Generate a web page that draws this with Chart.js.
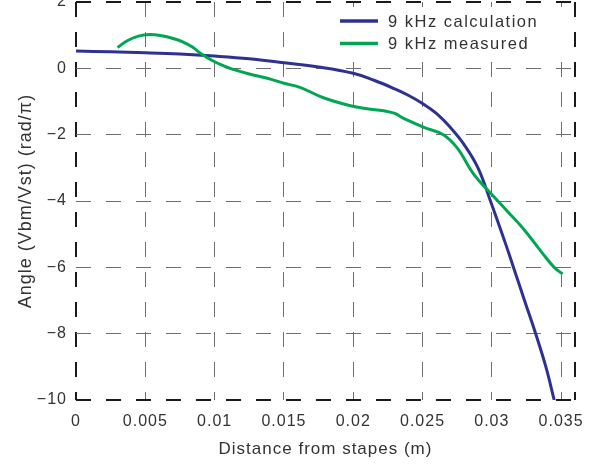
<!DOCTYPE html>
<html>
<head>
<meta charset="utf-8">
<script src="https://cdn.jsdelivr.net/npm/chart.js@4/dist/chart.umd.min.js"></script>
<style>
  html, body { margin: 0; padding: 0; background: #ffffff; }
  #wrap { width: 589px; height: 465px; }
</style>
</head>
<body>
<div id="wrap"><canvas id="c" width="589" height="465"></canvas></div>
<script>
// ---- data ----
const seriesNames = ['9 kHz calculation', '9 kHz measured'];

const calcX = [0, 0.0025, 0.005, 0.0075, 0.01, 0.0125, 0.015, 0.0175, 0.02, 0.0215, 0.023, 0.024, 0.025, 0.026, 0.027, 0.028, 0.029, 0.0299, 0.031, 0.0316, 0.0324, 0.0332, 0.0339, 0.0345];
const calcY = [0.52, 0.50, 0.47, 0.43, 0.37, 0.29, 0.17, 0.04, -0.15, -0.36, -0.62, -0.82, -1.06, -1.36, -1.78, -2.3, -3.0, -4.0, -5.3, -6.05, -7.05, -8.05, -9.0, -10.0];

const measX = [0.003, 0.0037, 0.0045, 0.0053, 0.0062, 0.007, 0.0077, 0.0084, 0.009, 0.0099, 0.0107, 0.0114, 0.0125, 0.0138, 0.015, 0.0162, 0.0178, 0.0198, 0.021, 0.0222, 0.023, 0.0236, 0.0244, 0.0251, 0.0265, 0.0275, 0.0287, 0.0299, 0.0311, 0.0323, 0.0337, 0.0345, 0.0351];
const measY = [0.63, 0.83, 0.97, 1.02, 0.98, 0.9, 0.8, 0.64, 0.45, 0.22, 0.07, -0.04, -0.17, -0.3, -0.45, -0.58, -0.88, -1.13, -1.22, -1.28, -1.36, -1.5, -1.65, -1.78, -2.0, -2.4, -3.2, -3.76, -4.3, -4.85, -5.6, -6.0, -6.2];

const xTicks = [0, 0.005, 0.01, 0.015, 0.02, 0.025, 0.03, 0.035];
const xTickLabels = ['0', '0.005', '0.01', '0.015', '0.02', '0.025', '0.03', '0.035'];
const xMin = 0, xMax = 0.036;
const yTicks = [2, 0, -2, -4, -6, -8, -10];
const yTickLabels = ['2', '0', '\u22122', '\u22124', '\u22126', '\u22128', '\u221210'];
const yMin = -10, yMax = 2;

const xTitle = 'Distance from stapes (m)';
const yTitle = 'Angle (Vbm/Vst) (rad/\u03c0)';
const colors = ['#2e3192', '#00a651'];

// ---- build ----
const toPts = (xs, ys) => xs.map((x, i) => ({ x: x, y: ys[i] }));
const FONT = '"Liberation Sans", Arial, Helvetica, sans-serif';
const TEXT = '#333333';

const spacingPlugin = {
  id: 'spacing',
  beforeUpdate(chart) { chart.ctx.letterSpacing = '1px'; },
  beforeDraw(chart) { chart.ctx.letterSpacing = '1px'; }
};

const boxLegend = {
  id: 'boxLegend',
  afterDraw(chart) {
    const ctx = chart.ctx;
    const a = chart.chartArea;
    ctx.save();
    ctx.fillStyle = '#ffffff';
    ctx.fillRect(a.right - 237, a.top + 5, 232, 55);
    ctx.letterSpacing = '1.5px';
    ctx.font = '16.5px ' + FONT;
    ctx.textBaseline = 'middle';
    ctx.textAlign = 'left';
    chart.data.datasets.forEach((ds, i) => {
      const y = a.top + 19 + i * 22.5;
      ctx.strokeStyle = ds.borderColor;
      ctx.lineWidth = 3.5;
      ctx.beginPath();
      ctx.moveTo(a.right - 235, y);
      ctx.lineTo(a.right - 197, y);
      ctx.stroke();
      ctx.fillStyle = TEXT;
      ctx.fillText(ds.label, a.right - 187, y + 1);
    });
    ctx.restore();
  }
};

const edge = (ctx, lo, hi) => {
  const v = ctx.tick ? ctx.tick.value : null;
  return (v === lo || v === hi);
};

new Chart(document.getElementById('c'), {
  type: 'line',
  data: {
    datasets: [
      { label: seriesNames[0], data: toPts(calcX, calcY), borderColor: colors[0], borderWidth: 3, pointRadius: 0, fill: false, tension: 0.4, order: 1 },
      { label: seriesNames[1], data: toPts(measX, measY), borderColor: colors[1], borderWidth: 3, pointRadius: 0, fill: false, tension: 0.4, order: 0 }
    ]
  },
  options: {
    responsive: false,
    animation: false,
    devicePixelRatio: 1,
    layout: { padding: { left: 0, right: 14, top: 2, bottom: 0 } },
    plugins: { legend: { display: false }, tooltip: { enabled: false } },
    scales: {
      x: {
        type: 'linear',
        min: xMin, max: xMax,
        afterBuildTicks: (s) => { s.ticks = xTicks.concat([xMax]).map(v => ({ value: v })); },
        afterFit: (s) => { s.height = 65; s.paddingLeft = 0; s.paddingRight = 0; },
        ticks: {
          color: TEXT, padding: 12, maxRotation: 0, autoSkip: false,
          font: { family: FONT, size: 16 },
          callback: (v) => { const i = xTicks.indexOf(v); return i >= 0 ? xTickLabels[i] : ''; }
        },
        grid: {
          drawTicks: false,
          color: (c) => edge(c, xMin, xMax) ? '#1a1a1a' : '#6e6e6e',
          lineWidth: (c) => edge(c, xMin, xMax) ? 2 : 1
        },
        border: { display: false, dash: [15, 15], dashOffset: 0 },
        title: { display: true, text: xTitle, color: TEXT, font: { family: FONT, size: 17 }, padding: { top: 0, bottom: 5 } }
      },
      y: {
        type: 'linear',
        min: yMin, max: yMax,
        afterBuildTicks: (s) => { s.ticks = yTicks.slice().reverse().map(v => ({ value: v })); },
        afterFit: (s) => { s.width = 76; s.paddingTop = 0; s.paddingBottom = 0; },
        ticks: {
          color: TEXT, padding: 9, autoSkip: false,
          font: { family: FONT, size: 16 },
          callback: (v) => { const i = yTicks.indexOf(v); return i >= 0 ? yTickLabels[i] : ''; }
        },
        grid: {
          drawTicks: false,
          color: (c) => edge(c, yMin, yMax) ? '#1a1a1a' : '#6e6e6e',
          lineWidth: (c) => edge(c, yMin, yMax) ? 2 : 1
        },
        border: { display: false, dash: [15, 15], dashOffset: 0 },
        title: { display: true, text: yTitle, color: TEXT, font: { family: FONT, size: 18 }, padding: { top: 15, bottom: 0 } }
      }
    }
  },
  plugins: [spacingPlugin, boxLegend]
});
</script>
</body>
</html>
